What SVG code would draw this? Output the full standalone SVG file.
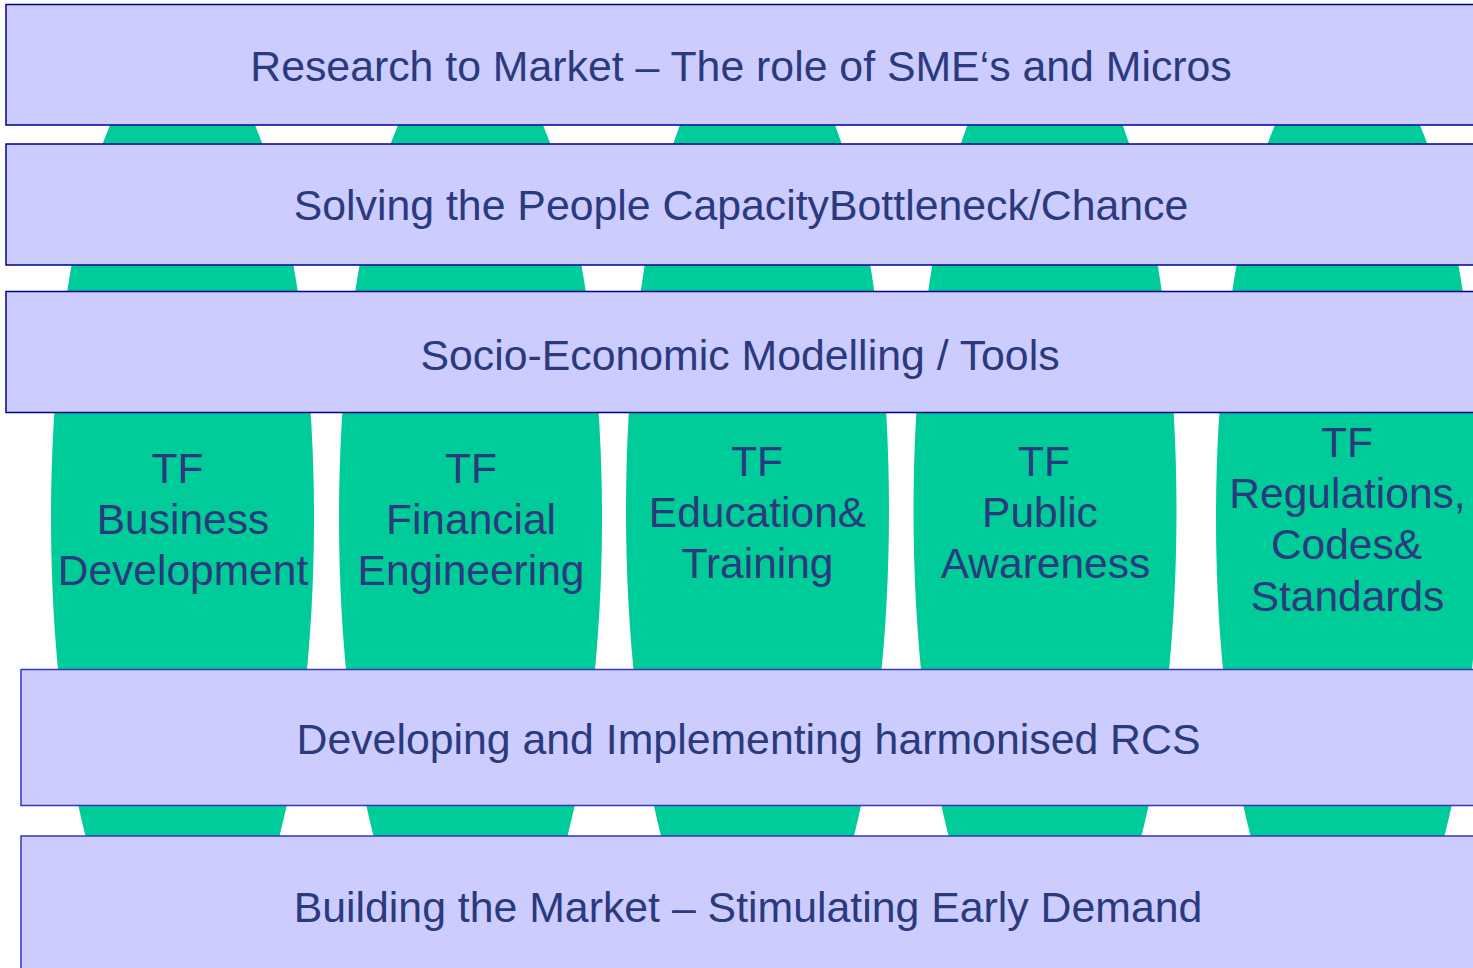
<svg xmlns="http://www.w3.org/2000/svg" width="1473" height="968" viewBox="0 0 1473 968">
  <style>
    .pillar { fill: #00CC99; }
    .bar { fill: #CCCCFF; stroke: #000099; stroke-width: 1.5; }
    .bar2 { fill: #CCCCFF; stroke: #3333CC; stroke-width: 1.5; }
    text { font-family: "Liberation Sans", Arial, sans-serif; font-size: 42.5px; fill: #2B3A7C; text-anchor: middle; }
    .wide { font-size: 42.8px; }
  </style>
  <rect x="0" y="0" width="1473" height="968" fill="#FFFFFF"/>
  <g id="pillar-business">
    <ellipse class="pillar" cx="182.5" cy="518" rx="131.5" ry="471"/>
  </g>
  <g id="pillar-financial">
    <ellipse class="pillar" cx="470.5" cy="518" rx="131.5" ry="471"/>
  </g>
  <g id="pillar-education">
    <ellipse class="pillar" cx="757.5" cy="511" rx="131.5" ry="478"/>
  </g>
  <g id="pillar-public">
    <ellipse class="pillar" cx="1045" cy="511" rx="131.5" ry="478"/>
  </g>
  <g id="pillar-regulations">
    <ellipse class="pillar" cx="1347.5" cy="518" rx="131.5" ry="471"/>
  </g>
  <g id="bar-research">
    <rect class="bar" x="6" y="4.5" width="1470" height="120.5"/>
    <text class="wide" x="741" y="81">Research to Market – The role of SME‘s and Micros</text>
  </g>
  <g id="bar-people">
    <rect class="bar" x="6" y="144" width="1470" height="121"/>
    <text class="wide" x="741" y="220">Solving the People CapacityBottleneck/Chance</text>
  </g>
  <g id="bar-socio">
    <rect class="bar" x="6" y="291.5" width="1470" height="121"/>
    <text class="wide" x="740" y="370">Socio-Economic Modelling / Tools</text>
  </g>
  <g id="bar-rcs">
    <rect class="bar2" x="21" y="669.5" width="1455" height="136"/>
    <text class="wide" x="748.5" y="754">Developing and Implementing harmonised RCS</text>
  </g>
  <g id="bar-market">
    <rect class="bar2" x="21" y="836" width="1455" height="144"/>
    <text class="wide" x="748" y="922">Building the Market – Stimulating Early Demand</text>
  </g>
  <g id="label-business">
    <text x="177.5" y="483">TF</text>
    <text x="183" y="534">Business</text>
    <text x="183" y="585">Development</text>
  </g>
  <g id="label-financial">
    <text x="471" y="483">TF</text>
    <text x="471" y="534">Financial</text>
    <text x="471" y="585">Engineering</text>
  </g>
  <g id="label-education">
    <text x="757" y="476">TF</text>
    <text x="757.5" y="527">Education&amp;</text>
    <text x="757.5" y="578">Training</text>
  </g>
  <g id="label-public">
    <text x="1044" y="476">TF</text>
    <text x="1040" y="527">Public</text>
    <text x="1045.5" y="578">Awareness</text>
  </g>
  <g id="label-regulations">
    <text x="1347" y="457">TF</text>
    <text x="1347.5" y="508">Regulations,</text>
    <text x="1346.5" y="559">Codes&amp;</text>
    <text x="1347.5" y="611">Standards</text>
  </g>
  <g id="connectors"></g>
</svg>
